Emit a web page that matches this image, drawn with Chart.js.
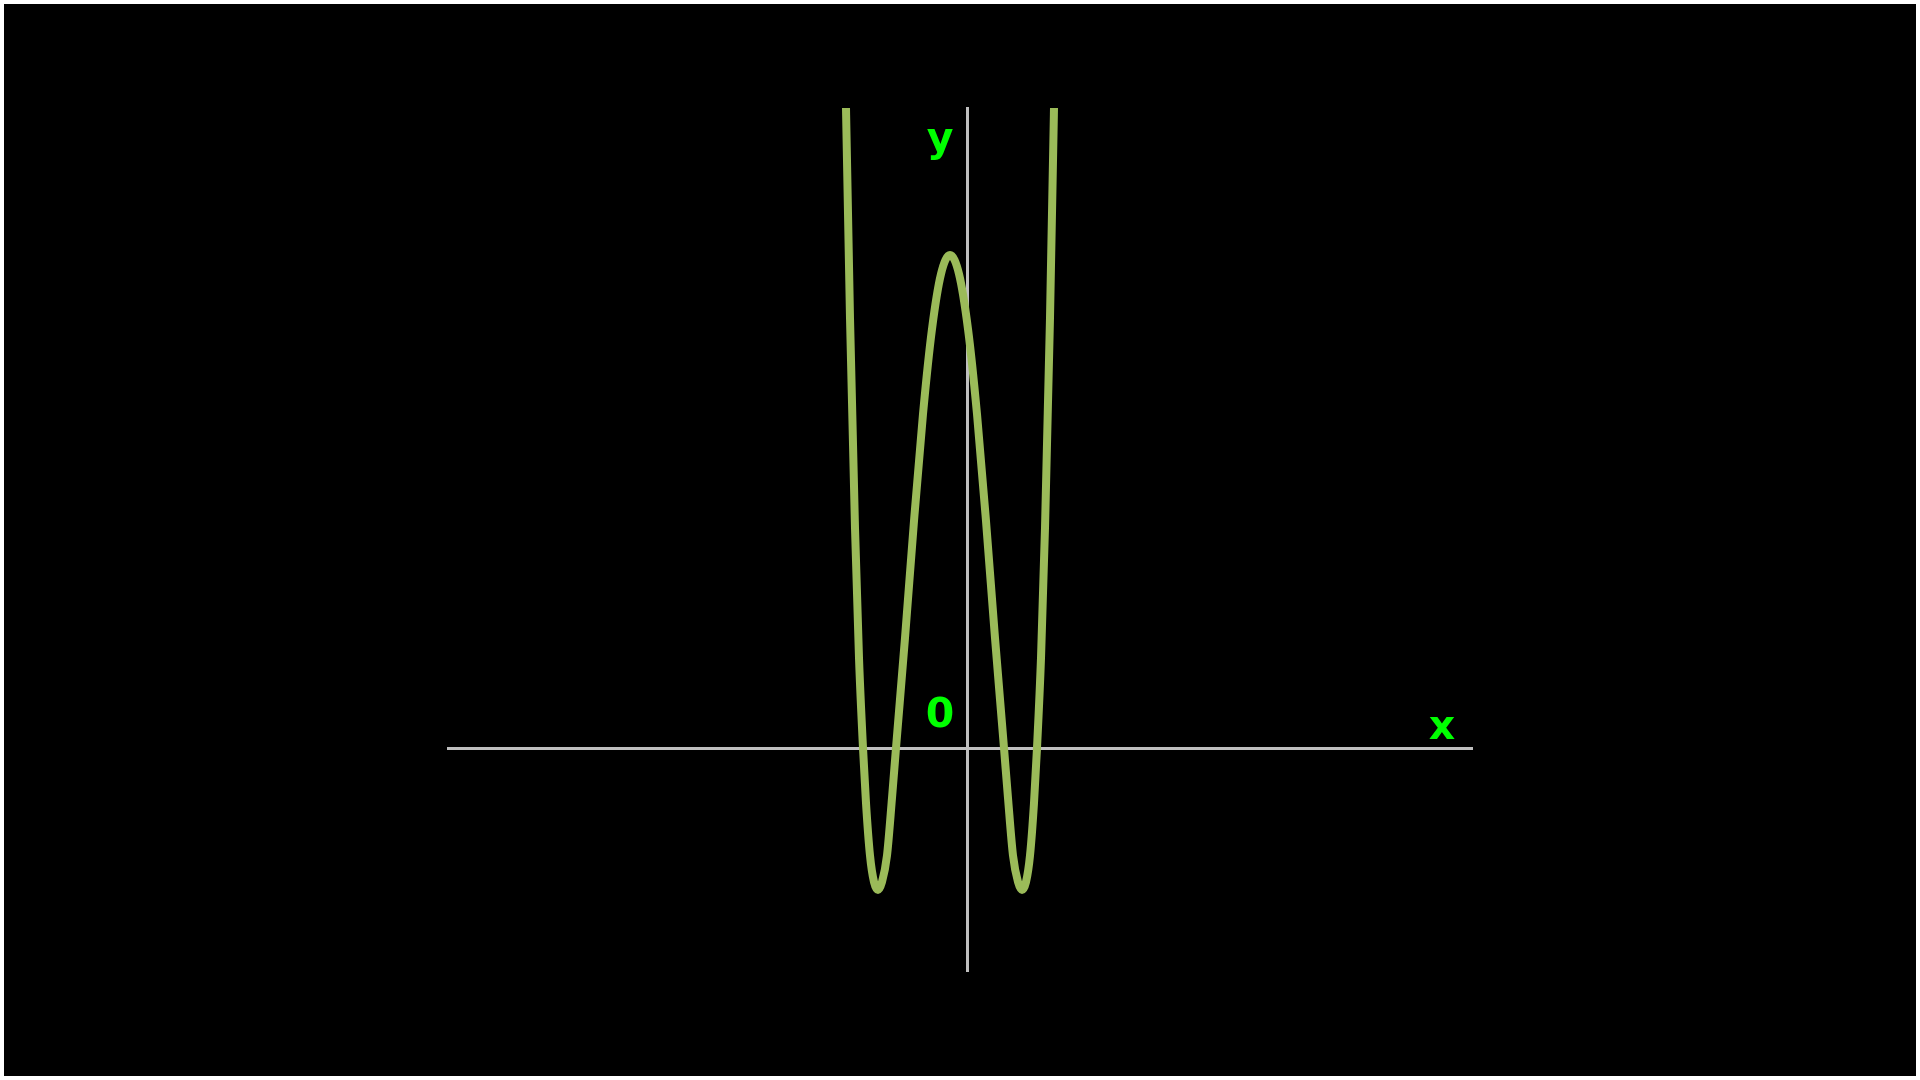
<!DOCTYPE html>
<html>
<head>
<meta charset="utf-8">
<script src="https://cdn.jsdelivr.net/npm/chart.js"></script>
<style>
    html, body { margin: 0; padding: 0; background: #000; }
    #wrap { position: relative; width: 1920px; height: 1080px; }
    #frame { position: absolute; inset: 0; border: 4px solid #fff; box-sizing: border-box; pointer-events: none; }
</style>
</head>
<body>
<div id="wrap">
    <canvas id="curveChart" width="1920" height="1080"></canvas>
    <div id="frame"></div>
</div>
<script>
// points (x, y in axis units)
const curveX = [-2.50, -2.42, -2.34, -2.24, -2.16, -2.08, -2.02, -1.94, -1.86, -1.78, -1.70, -1.60, -1.50, -1.42,
    -1.24, -1.06, -0.88, -0.70, -0.52, -0.34, -0.16, 0.02, 0.20, 0.38, 0.56, 0.74,
    0.82, 0.92, 1.02, 1.10, 1.18, 1.26, 1.34, 1.40, 1.48, 1.56, 1.66, 1.74, 1.82];
const curveY = [17.4, 12.8, 8.6, 4.4, 1.8, 0, -1.1, -2.15, -2.68, -2.84, -2.68, -2.15, -1.0, 0,
    2.2, 4.54, 6.68, 8.38, 9.48, 9.86, 9.48, 8.38, 6.68, 4.54, 2.2, 0,
    -1.0, -2.15, -2.68, -2.84, -2.68, -2.15, -1.1, 0, 1.8, 4.4, 8.6, 12.8, 17.4];

const xRange = [-10.38, 10.1];
const yRange = [-4.46, 12.8];

const axisLabels = { x: 'x', y: 'y', origin: '0' };

const colors = {
    curve: '#9bbb59',
    axis: '#bfbfbf',
    label: '#00ff00'
};

const points = curveX.map((x, i) => ({ x: x, y: curveY[i] }));

// draws the x / y / 0 letters next to the axes
const axisLetters = {
    id: 'axisLetters',
    afterDraw(chart) {
        const { ctx, chartArea, scales } = chart;
        const ox = scales.x.getPixelForValue(0);
        const oy = scales.y.getPixelForValue(0);
        ctx.save();
        ctx.fillStyle = colors.label;
        ctx.font = 'bold 41px "DejaVu Sans"';
        ctx.textAlign = 'center';
        ctx.textBaseline = 'alphabetic';
        ctx.fillText(axisLabels.y, ox - 27, chartArea.top + 43);
        ctx.fillText(axisLabels.origin, ox - 27, oy - 21);
        ctx.fillText(axisLabels.x, chartArea.right - 30, oy - 9);
        ctx.restore();
    }
};

new Chart(document.getElementById('curveChart'), {
    type: 'scatter',
    data: {
        datasets: [{
            data: points,
            showLine: true,
            borderColor: colors.curve,
            borderWidth: 8,
            pointRadius: 0,
            cubicInterpolationMode: 'monotone',
            borderJoinStyle: 'round',
            fill: false
        }]
    },
    options: {
        responsive: false,
        animation: false,
        layout: {
            padding: { left: 448, right: 448, top: 108, bottom: 109 }
        },
        plugins: {
            legend: { display: false },
            tooltip: { enabled: false }
        },
        scales: {
            x: {
                type: 'linear',
                min: xRange[0],
                max: xRange[1],
                position: { y: 0 },
                z: 1,
                grid: { display: false },
                ticks: { display: false },
                border: { display: true, color: colors.axis, width: 3 }
            },
            y: {
                type: 'linear',
                min: yRange[0],
                max: yRange[1],
                position: { x: 0 },
                z: 1,
                grid: { display: false },
                ticks: { display: false },
                border: { display: true, color: colors.axis, width: 3 }
            }
        }
    },
    plugins: [axisLetters]
});
</script>
</body>
</html>
